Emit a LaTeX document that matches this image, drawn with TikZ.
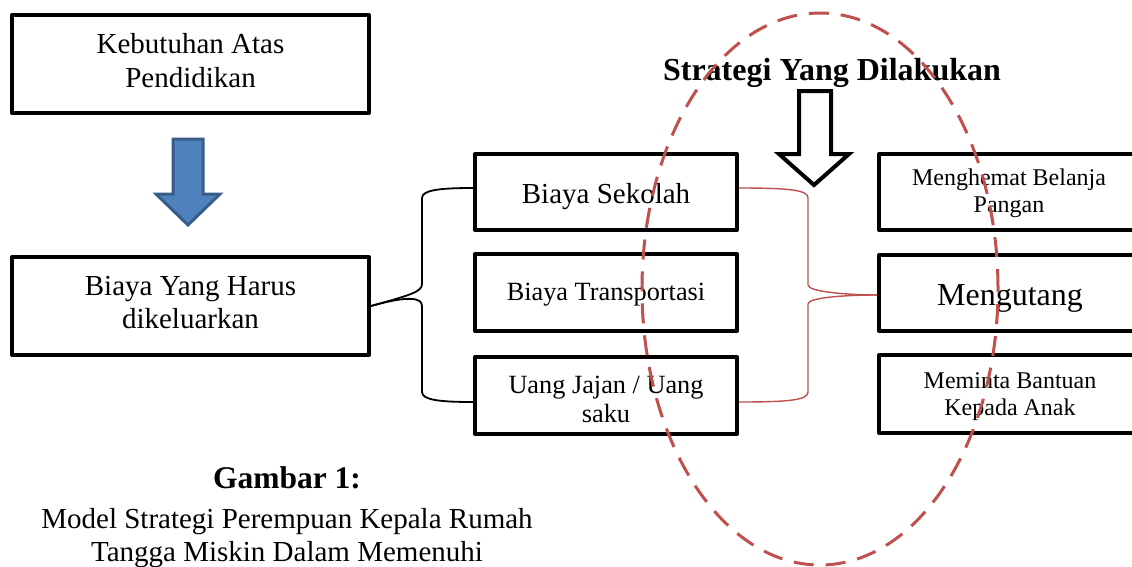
\documentclass[tikz,border=0pt]{standalone}
\usepackage{fontspec}
\setmainfont{Liberation Serif}
\usetikzlibrary{shapes.geometric}
\definecolor{redline}{RGB}{192,80,77}
\definecolor{bluefill}{RGB}{79,129,189}
\definecolor{bluedraw}{RGB}{56,93,138}
\begin{document}
\begin{tikzpicture}[x=1pt,y=-1pt,
  box/.style={draw, line width=4pt, inner sep=0pt, line join=round},
  txt/.style={anchor=base, inner sep=0pt},
  fa/.style={font=\fontsize{29}{33}\selectfont},
  fb/.style={font=\fontsize{26.3}{29}\selectfont},
  fc/.style={font=\fontsize{24}{27}\selectfont},
  fd/.style={font=\fontsize{32}{36}\selectfont},
  fbold/.style={font=\fontsize{32}{36}\selectfont\bfseries},
  blackbrace/.style={draw=black, line width=1.8pt},
  redbrace/.style={draw=redline, line width=1.4pt},
  ovalstyle/.style={draw=redline, line width=3pt, dash pattern=on 20pt off 12pt}]
\clip (0,0) rectangle (1132,566);
\fill[white] (0,0) rectangle (1132,566);

% boxes
\node[box, minimum width=357pt, minimum height=98pt] (b1) at (190.5,64) {};
\node[box, minimum width=357pt, minimum height=98pt] (b2) at (190.5,306) {};
\node[box, minimum width=262pt, minimum height=76pt] (bA) at (606,192) {};
\node[box, minimum width=262pt, minimum height=77pt] (bB) at (606,292.5) {};
\node[box, minimum width=262pt, minimum height=77pt] (bC) at (606,395.5) {};
\node[box, minimum width=261pt, minimum height=76pt] (bD) at (1009.5,192) {};
\node[box, minimum width=261pt, minimum height=76pt] (bE) at (1009.5,293) {};
\node[box, minimum width=261pt, minimum height=78pt] (bF) at (1009.5,394) {};

% texts
\node[txt, fa] (t1a) at (190.5,53) {Kebutuhan Atas};
\node[txt, fa] (t1b) at (190.5,87) {Pendidikan};
\node[txt, fa] (t2a) at (190.5,295) {Biaya Yang Harus};
\node[txt, fa] (t2b) at (190.5,328) {dikeluarkan};
\node[txt, fa] (tA) at (606,203) {Biaya Sekolah};
\node[txt, fb] (tB) at (606,300) {Biaya Transportasi};
\node[txt, fb] (tC1) at (606,393) {Uang Jajan / Uang};
\node[txt, fb] (tC2) at (606,422) {saku};
\node[txt, fc] (tD1) at (1009,185) {Menghemat Belanja};
\node[txt, fc] (tD2) at (1009,212) {Pangan};
\node[txt, fd] (tE) at (1010,305) {Mengutang};
\node[txt, fc] (tF1) at (1010,388) {Meminta Bantuan};
\node[txt, fc] (tF2) at (1010,415) {Kepada Anak};
\node[txt, fbold] (title) at (832,80) {Strategi Yang Dilakukan};
\node[txt, font=\fontsize{31.5}{35}\selectfont\bfseries] (cap0) at (287,488) {Gambar 1:};
\node[txt, fa] (cap1) at (287,528) {Model Strategi Perempuan Kepala Rumah};
\node[txt, fa] (cap2) at (287,561) {Tangga Miskin Dalam Memenuhi};

% blue arrow
\draw[fill=bluefill, draw=bluedraw, line width=3pt, line join=miter]
  (173,139) -- (203,139) -- (203,194) -- (220,194) -- (188,225) -- (156,194) -- (173,194) -- cycle;

% hollow arrow
\draw[line width=4pt, line join=miter, fill=white]
  (799,91) -- (831,91) -- (831,154) -- (849,154) -- (814,185) -- (779,154) -- (799,154) -- cycle;

% black brace
\draw[blackbrace] (b2.east) .. controls (410,295) and (422,292) .. (422,284) -- (422,198)
  .. controls (422,190) and (440,188) .. ([yshift=4pt]bA.west);
\draw[blackbrace] (b2.east) .. controls (410,295) and (422,298) .. (422,306) -- (422,392)
  .. controls (422,400) and (440,402) .. ([yshift=-6.5pt]bC.west);

% red brace
\draw[redbrace] ([yshift=4pt]bA.east) .. controls (790,188) and (808,190) .. (808,198) -- (808,285)
  .. controls (808,292) and (850,295) .. ([yshift=-2pt]bE.west);
\draw[redbrace] ([yshift=-2pt]bE.west) .. controls (850,295) and (808,297) .. (808,304) -- (808,392)
  .. controls (808,400) and (790,402) .. ([yshift=-6.5pt]bC.east);

% dashed oval
\node[ellipse, ovalstyle, minimum width=356pt, minimum height=552pt, inner sep=0pt] (oval) at (820,289) {};
\end{tikzpicture}
\end{document}
